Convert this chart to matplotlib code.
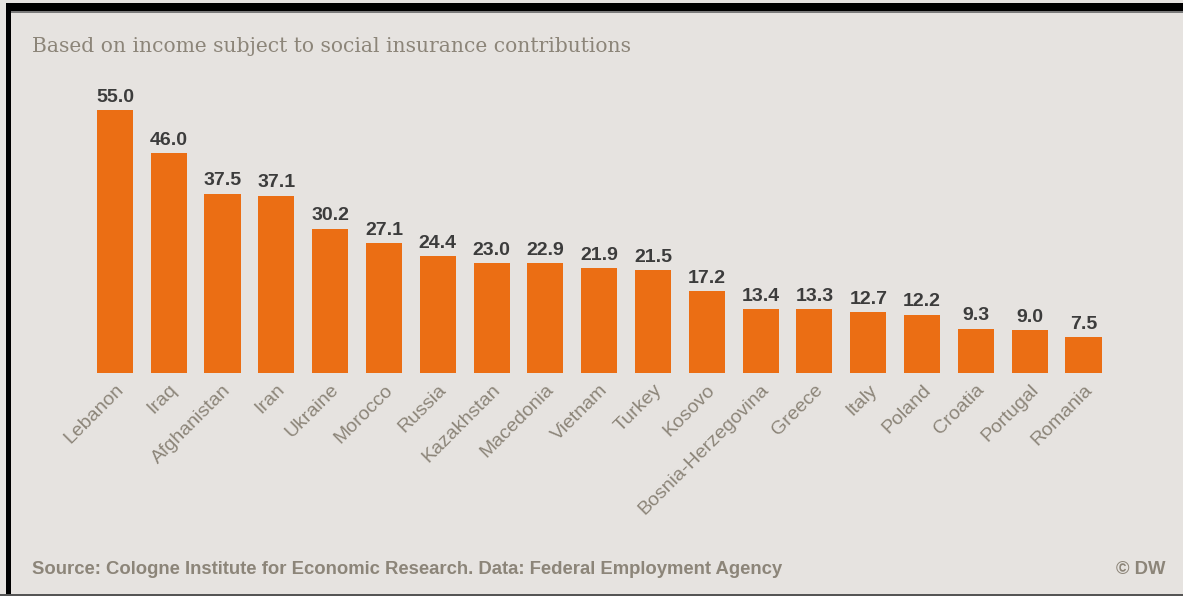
import matplotlib.pyplot as plt
from matplotlib.patches import Rectangle

# data
countries = ['Lebanon', 'Iraq', 'Afghanistan', 'Iran', 'Ukraine', 'Morocco', 'Russia',
             'Kazakhstan', 'Macedonia', 'Vietnam', 'Turkey', 'Kosovo',
             'Bosnia-Herzegovina', 'Greece', 'Italy', 'Poland', 'Croatia',
             'Portugal', 'Romania']
values = [55.0, 46.0, 37.5, 37.1, 30.2, 27.1, 24.4, 23.0, 22.9, 21.9, 21.5, 17.2,
          13.4, 13.3, 12.7, 12.2, 9.3, 9.0, 7.5]

bg = '#e6e3e0'
orange = '#eb6e14'
grey_text = '#8c8579'

W, H = 1183, 596
fig = plt.figure(figsize=(W / 100, H / 100), dpi=100)
fig.patch.set_facecolor(bg)

# frame (black top/left border, thin bottom line)
fig.add_artist(Rectangle((6 / W, 1 - 11 / H), 1, 8 / H, transform=fig.transFigure,
                         facecolor='black', edgecolor='none'))
fig.add_artist(Rectangle((6 / W, 0), 5 / W, 1 - 3 / H, transform=fig.transFigure,
                         facecolor='black', edgecolor='none'))
fig.add_artist(Rectangle((11 / W, 1 - 13 / H), 1, 2 / H, transform=fig.transFigure,
                         facecolor='#7a7a7a', edgecolor='none'))
fig.add_artist(Rectangle((0, 0), 1, 2 / H, transform=fig.transFigure,
                         facecolor='#555555', edgecolor='none'))

ax = fig.add_axes([88 / W, 1 - 373 / H, 1022.4 / W, 287 / H])
ax.set_facecolor(bg)
x = range(len(countries))
bars = ax.bar(x, values, width=0.67, color=orange)
ax.set_xlim(-0.5, len(countries) - 0.5)
ax.set_ylim(0, 60)

for b, v in zip(bars, values):
    ax.annotate(f'{v:.1f}', (b.get_x() + b.get_width() / 2, v), xytext=(0, 3),
                textcoords='offset points', ha='center', va='bottom',
                fontsize=14, fontweight='bold', color='#3c3c3c',
                family='Liberation Sans')

ax.set_xticks(list(x))
ax.set_xticklabels(countries, rotation=45, ha='right', rotation_mode='anchor',
                   fontsize=14, color=grey_text, family='Liberation Sans')
ax.tick_params(axis='x', length=0, pad=6)
ax.set_yticks([])
for s in ax.spines.values():
    s.set_visible(False)

# title and footer
fig.text(32 / W, 1 - 46 / H, 'Based on income subject to social insurance contributions',
         ha='left', va='center', fontsize=14.6, color=grey_text, family='DejaVu Serif')
fig.text(32 / W, 1 - 569 / H,
         'Source: Cologne Institute for Economic Research. Data: Federal Employment Agency',
         ha='left', va='center', fontsize=13.3, fontweight='bold', color=grey_text,
         family='Liberation Sans')
fig.text(1166 / W, 1 - 569 / H, '© DW', ha='right', va='center', fontsize=13.3,
         fontweight='bold', color=grey_text, family='Liberation Sans')

fig.savefig('out.png', dpi=100, facecolor=bg)
